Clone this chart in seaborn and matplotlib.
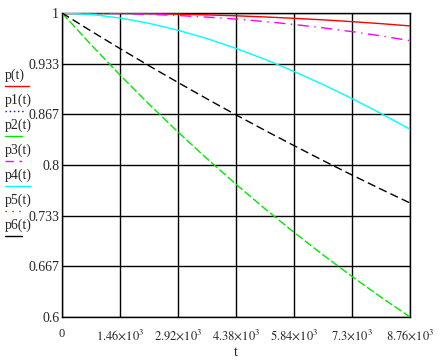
import numpy as np
import pandas as pd
import seaborn as sns
import matplotlib.pyplot as plt
from matplotlib.lines import Line2D

sns.set_style("white")
plt.rcParams['font.family'] = ['Liberation Serif', 'DejaVu Serif']
plt.rcParams['mathtext.fontset'] = 'stix'

# t values (hours), read at every half grid step
t = [0, 730, 1460, 2190, 2920, 3650, 4380, 5110, 5840, 6570, 7300, 8030, 8760]

# curves
p = [1.0, 1.0, 0.9997, 0.9992, 0.9985, 0.9975, 0.9963, 0.9948, 0.993, 0.991, 0.9886, 0.986, 0.983]
p2 = [1.0, 0.9583, 0.9184, 0.8801, 0.8434, 0.8083, 0.7746, 0.7423, 0.7114, 0.6817, 0.6533, 0.6261, 0.6]
p3 = [1.0, 0.9998, 0.9993, 0.9982, 0.9967, 0.9946, 0.992, 0.9887, 0.9849, 0.9805, 0.9755, 0.9699, 0.9636]
p4 = [1.0, 0.9981, 0.9934, 0.9864, 0.9773, 0.9663, 0.9534, 0.939, 0.9231, 0.9058, 0.8874, 0.8677, 0.847]
p6 = [1.0, 0.9763, 0.9532, 0.9306, 0.9086, 0.887, 0.866, 0.8455, 0.8255, 0.8059, 0.7868, 0.7682, 0.75]

series = {'p(t)': p, 'p2(t)': p2, 'p3(t)': p3, 'p4(t)': p4, 'p6(t)': p6}
legend_names = ['p(t)', 'p1(t)', 'p2(t)', 'p3(t)', 'p4(t)', 'p5(t)', 'p6(t)']
colors = {'p(t)': '#ff0000', 'p1(t)': '#0000ff', 'p2(t)': '#00e800', 'p3(t)': '#ff00ff',
          'p4(t)': '#00ffff', 'p5(t)': '#804000', 'p6(t)': '#000000'}
dashes = {'p(t)': '', 'p2(t)': (6, 2), 'p3(t)': (8, 4, 1, 4), 'p4(t)': '', 'p6(t)': (6, 3)}
# legend samples (short, so patterns look different)
leg_dashes = {'p(t)': '', 'p1(t)': (1, 2), 'p2(t)': '', 'p3(t)': (6, 4, 2, 4),
              'p4(t)': '', 'p5(t)': (1, 4), 'p6(t)': ''}
leg_len = {'p(t)': 24, 'p1(t)': 20, 'p2(t)': 17, 'p3(t)': 17, 'p4(t)': 25, 'p5(t)': 20, 'p6(t)': 17}

rows = []
for name, vals in series.items():
    for ti, v in zip(t, vals):
        rows.append({'t': ti, 'val': v, 'curve': name})
df = pd.DataFrame(rows)

xticks = [0, 1460, 2920, 4380, 5840, 7300, 8760]
xtick_labels = ['0', r'$1.46{\times}10^3$', r'$2.92{\times}10^3$', r'$4.38{\times}10^3$',
                r'$5.84{\times}10^3$', r'$7.3{\times}10^3$', r'$8.76{\times}10^3$']
yticks = [0.6, 0.667, 0.733, 0.8, 0.867, 0.933, 1.0]
ytick_labels = ['0.6', '0.667', '0.733', '0.8', '0.867', '0.933', '1']

fig = plt.figure(figsize=(4.46, 3.62), dpi=100)
ax = fig.add_axes([62/446, 1-317/362, 348/446, 304/362])

sns.lineplot(data=df, x='t', y='val', hue='curve', style='curve',
             palette={k: colors[k] for k in series}, dashes=dashes,
             linewidth=1.0, legend=False, ax=ax, zorder=3)

ax.set_xlim(0, 8760)
ax.set_ylim(0.6, 1.0)
ax.set_xticks(xticks)
ax.set_xticklabels(xtick_labels, fontsize=9)
ax.set_yticks(yticks)
ax.set_yticklabels(ytick_labels, fontsize=10)
ax.tick_params(length=0)
ax.tick_params(axis='x', pad=8)
ax.tick_params(axis='y', pad=2)
ax.grid(True, color='black', linewidth=1.0)
for s in ax.spines.values():
    s.set_color('black')
    s.set_linewidth(1.0)
ax.set_xlabel('t', fontsize=10, labelpad=2)
ax.set_ylabel('')

# Mathcad-style stacked legend at the left
for i, name in enumerate(legend_names):
    yc = 75 + i * 25
    fig.text(5/446, 1 - yc/362, name, fontsize=10, va='center', ha='left')
    ln = Line2D([5/446, (5 + leg_len[name])/446], [1 - (yc + 11)/362] * 2,
                transform=fig.transFigure, color=colors[name], linewidth=1.0)
    if leg_dashes[name]:
        ln.set_dashes(leg_dashes[name])
    fig.add_artist(ln)

fig.savefig('out.png', dpi=100)
